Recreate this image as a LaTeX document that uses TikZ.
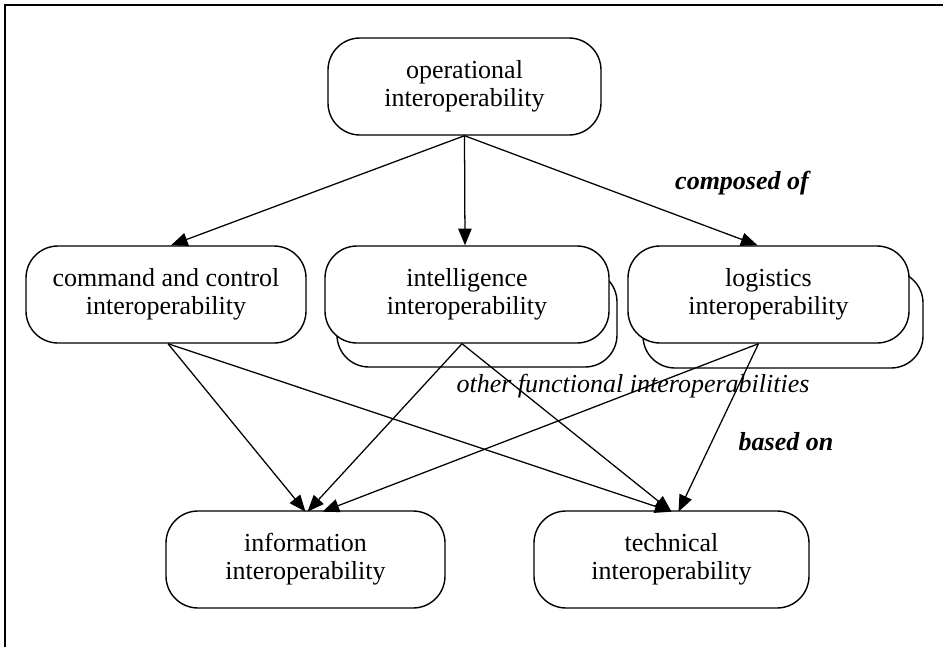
\documentclass[tikz,border=0pt]{standalone}
\usepackage{fontspec}
\setmainfont{Liberation Serif}
\usetikzlibrary{arrows.meta,calc}
\begin{document}
\begin{tikzpicture}[x=0.75pt,y=-0.75pt,
  box/.style={draw, line width=1.05pt, rounded corners=24pt, fill=white,
    minimum height=72.75pt, align=center, inner sep=0pt,
    font=\fontsize{19.5}{21}\selectfont},
  arr/.style={line width=0.95pt, -{Triangle[length=12.5pt,width=10pt]}},
  lbl/.style={font=\fontsize{19.5}{21}\selectfont\bfseries\itshape},
  ilbl/.style={font=\fontsize{19.5}{21}\selectfont\itshape}]
\useasboundingbox (0,0) rectangle (943,647);
\draw[line width=1.2pt] (5,647) -- (5,5) -- (943,5);

% back (stacked) boxes
\node[box, minimum width=210pt] (intB) at (477,318.5) {};
\node[box, minimum width=210pt] (logB) at (783,319.5) {};

% front boxes
\node[box, minimum width=204.75pt] (op) at (464.5,86.5) {operational\\interoperability};
\node[box, minimum width=210pt] (c2) at (166,294.5) {command and control\\interoperability};
\node[box, minimum width=213pt] (int) at (467,294.5) {intelligence\\interoperability};
\node[box, minimum width=210.75pt] (log) at (768.5,294.5) {logistics\\interoperability};
\node[box, minimum width=209.25pt] (info) at (305.5,559.5) {information\\interoperability};
\node[box, minimum width=206.25pt] (tech) at (671.5,559.5) {technical\\interoperability};

% labels
\node[lbl] (comp) at (742,183) {composed of};
\node[ilbl] (other) at (633,386) {other functional interoperabilities};
\node[lbl] (based) at (786,442) {based on};

% composed-of arrows
\draw[arr] (op.south) -- ($(c2.north)+(5,0)$);
\draw[arr] (op.south) -- ($(int.north)+(-2,0)$);
\draw[arr] (op.south) -- ($(log.north)+(-11,0)$);

% based-on arrows
\draw[arr] ($(c2.south)+(2,0)$) -- ($(info.south)+(0,-97)$);
\draw[arr] ($(c2.south)+(2,0)$) -- ($(tech.south)+(0,-97)$);
\draw[arr] ($(int.south)+(-5,0)$) -- ($(info.south)+(2,-97)$);
\draw[arr] ($(int.south)+(-5,0)$) -- ($(tech.south)+(0,-97)$);
\draw[arr] ($(log.south)+(-10,0)$) -- ($(info.south)+(17,-97)$);
\draw[arr] ($(log.south)+(-10,0)$) -- ($(tech.south)+(7,-97)$);
\end{tikzpicture}
\end{document}
